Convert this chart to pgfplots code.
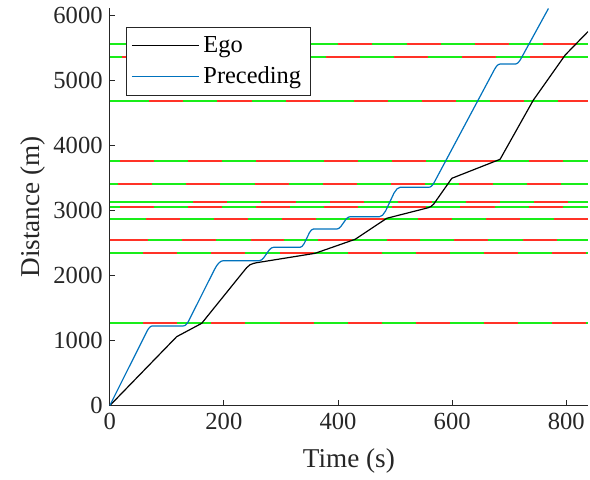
\documentclass[border=0pt]{standalone}
\usepackage{fontspec}
\setmainfont{Liberation Serif}
\usepackage{pgfplots}
\pgfplotsset{compat=1.18}
\definecolor{lred}{rgb}{1,0.2,0.15}
\definecolor{lgreen}{rgb}{0.1,0.93,0.1}
\definecolor{mblue}{rgb}{0,0.447,0.741}
\definecolor{axgray}{rgb}{0.15,0.15,0.15}
\begin{document}
\begin{tikzpicture}
\path[use as bounding box] (-54.85pt,-37.15pt) rectangle (240.15pt,202.85pt);
\begin{axis}[
  at={(0pt,0pt)}, anchor=south west,
  scale only axis, width=239.15pt, height=198.7pt,
  xmin=0, xmax=838, ymin=0, ymax=6103,
  unbounded coords=jump,
  axis x line*=bottom, axis y line*=left,
  axis line style={color=axgray, line width=0.45pt, -},
  every tick/.style={color=axgray, line width=0.45pt},
  tick align=inside, major tick length=2.6pt,
  xtick={0,200,...,800}, ytick={0,1000,...,6000},
  /pgf/number format/assume math mode=true,
  /pgf/number format/1000 sep={},
  tick label style={font=\fontsize{12.3}{14}\selectfont, color=axgray},
  label style={font=\fontsize{13.6}{16}\selectfont, color=axgray},
  xlabel={Time (s)}, ylabel={Distance (m)},
  xlabel style={yshift=-3pt},
  ylabel style={yshift=-3pt},
  legend style={at={(0.0341,0.953)}, anchor=north west, draw=axgray, line width=0.45pt,
    font=\fontsize{12.2}{14}\selectfont, cells={anchor=west}, inner xsep=2.5pt, inner ysep=2.5pt, row sep=1.5pt},
  legend image code/.code={\draw[#1, line width=0.5pt] (0pt,0pt) -- (33.5pt,0pt);},
  hl/.style={line width=1pt, forget plot},
]
% traffic-light lines: green base, red phases on top
\addplot[lgreen, hl] coordinates {(0,5555)(838,5555)};
\addplot[lred, hl] coordinates {(42.8,5555)(102.5,5555)(102.5,nan)(162.1,5555)(221.8,5555)(221.8,nan)(281.4,5555)(341.1,5555)(341.1,nan)(400.7,5555)(460.4,5555)(460.4,nan)(520.0,5555)(579.7,5555)(579.7,nan)(639.3,5555)(699.0,5555)(699.0,nan)(758.6,5555)(818.3,5555)};
\addplot[lgreen, hl] coordinates {(0,5351)(838,5351)};
\addplot[lred, hl] coordinates {(21.0,5351)(80.7,5351)(80.7,nan)(140.3,5351)(200.0,5351)(200.0,nan)(259.6,5351)(319.3,5351)(319.3,nan)(378.9,5351)(438.6,5351)(438.6,nan)(498.2,5351)(557.9,5351)(557.9,nan)(617.5,5351)(677.2,5351)(677.2,nan)(736.8,5351)(796.5,5351)};
\addplot[lgreen, hl] coordinates {(0,4676)(838,4676)};
\addplot[lred, hl] coordinates {(69.5,4676)(129.2,4676)(129.2,nan)(188.8,4676)(248.5,4676)(248.5,nan)(308.1,4676)(367.8,4676)(367.8,nan)(427.4,4676)(487.1,4676)(487.1,nan)(546.7,4676)(606.4,4676)(606.4,nan)(666.0,4676)(725.7,4676)(725.7,nan)(785.3,4676)(838,4676)};
\addplot[lgreen, hl] coordinates {(0,3761)(838,3761)};
\addplot[lred, hl] coordinates {(18.0,3761)(77.7,3761)(77.7,nan)(137.3,3761)(197.0,3761)(197.0,nan)(256.6,3761)(316.3,3761)(316.3,nan)(375.9,3761)(435.6,3761)(435.6,nan)(495.2,3761)(554.9,3761)(554.9,nan)(614.5,3761)(674.2,3761)(674.2,nan)(733.8,3761)(793.5,3761)};
\addplot[lgreen, hl] coordinates {(0,3403)(838,3403)};
\addplot[lred, hl] coordinates {(15.1,3403)(74.8,3403)(74.8,nan)(134.4,3403)(194.1,3403)(194.1,nan)(253.7,3403)(313.4,3403)(313.4,nan)(373.0,3403)(432.7,3403)(432.7,nan)(492.3,3403)(552.0,3403)(552.0,nan)(611.6,3403)(671.3,3403)(671.3,nan)(730.9,3403)(790.6,3403)};
\addplot[lgreen, hl] coordinates {(0,3129)(838,3129)};
\addplot[lred, hl] coordinates {(146.6,3129)(206.3,3129)(206.3,nan)(265.9,3129)(325.6,3129)(325.6,nan)(385.2,3129)(444.9,3129)(444.9,nan)(504.5,3129)(564.2,3129)(564.2,nan)(623.8,3129)(683.5,3129)(683.5,nan)(743.1,3129)(802.8,3129)};
\addplot[lgreen, hl] coordinates {(0,3046)(838,3046)};
\addplot[lred, hl] coordinates {(18.0,3046)(77.7,3046)(77.7,nan)(137.3,3046)(197.0,3046)(197.0,nan)(256.6,3046)(316.3,3046)(316.3,nan)(375.9,3046)(435.6,3046)(435.6,nan)(495.2,3046)(554.9,3046)(554.9,nan)(614.5,3046)(674.2,3046)(674.2,nan)(733.8,3046)(793.5,3046)};
\addplot[lgreen, hl] coordinates {(0,2868)(838,2868)};
\addplot[lred, hl] coordinates {(63.0,2868)(122.7,2868)(122.7,nan)(182.3,2868)(242.0,2868)(242.0,nan)(301.6,2868)(361.3,2868)(361.3,nan)(420.9,2868)(480.6,2868)(480.6,nan)(540.2,2868)(599.9,2868)(599.9,nan)(659.5,2868)(719.2,2868)(719.2,nan)(778.8,2868)(838,2868)};
\addplot[lgreen, hl] coordinates {(0,2549)(838,2549)};
\addplot[lred, hl] coordinates {(0,2549)(66.5,2549)(66.5,nan)(127.3,2549)(186.3,2549)(186.3,nan)(247.0,2549)(306.0,2549)(306.0,nan)(365.6,2549)(425.2,2549)(425.2,nan)(485.3,2549)(543.3,2549)(543.3,nan)(604.0,2549)(663.3,2549)(663.3,nan)(723.8,2549)(783.2,2549)};
\addplot[lgreen, hl] coordinates {(0,2338)(838,2338)};
\addplot[lred, hl] coordinates {(58.9,2338)(118.6,2338)(118.6,nan)(178.2,2338)(237.9,2338)(237.9,nan)(297.5,2338)(357.2,2338)(357.2,nan)(416.8,2338)(476.5,2338)(476.5,nan)(536.1,2338)(595.8,2338)(595.8,nan)(655.4,2338)(715.1,2338)(715.1,nan)(774.7,2338)(834.4,2338)};
\addplot[lgreen, hl] coordinates {(0,1268)(838,1268)};
\addplot[lred, hl] coordinates {(58.9,1268)(118.6,1268)(118.6,nan)(178.2,1268)(237.9,1268)(237.9,nan)(297.5,1268)(357.2,1268)(357.2,nan)(416.8,1268)(476.5,1268)(476.5,nan)(536.1,1268)(595.8,1268)(595.8,nan)(655.4,1268)(715.1,1268)(715.1,nan)(774.7,1268)(834.4,1268)};
% Ego
\addplot[black, line width=0.6pt, line join=round] coordinates {
(0,0)(117.4,1060)(161.2,1265)(234.2,2058)(240,2120)(246,2165)(252,2185)(257.6,2196)
(359.8,2340)(430,2555)(485.4,2878)(558,3040)(563,3060)(568,3100)(599.4,3492)
(684,3784)(742,4690)(798,5385)(838,5745)};
\addlegendentry{Ego}
% Preceding
\addplot[mblue, line width=0.6pt, line join=round] coordinates {
(0,0)(65,1137.5)(67.5,1176)(70,1203)(72.5,1219.5)(75,1225)
(129,1225)(131.5,1230.5)(134,1247)(136.5,1274)(139,1312.5)
(183.3,2087)(187.3,2148.3)(191.3,2192)(195.3,2218.3)(199.3,2227)
(262,2227)(265.75,2237.3)(269.5,2268)(274.5,2329.5)(279.5,2391)(283.25,2421.8)(287,2432)
(333.5,2432)(337.0,2446)(340.6,2488.2)(345.3,2572.5)(349.9,2656.8)(353.5,2699)(357,2713)
(398,2713)(401.5,2722.5)(404.9,2750.8)(409.5,2807.5)(414.1,2864.2)(417.6,2892.5)(421,2902)
(472.5,2902)(478,2924.6)(483.5,2992.4)(490.8,3128)(498,3263.6)(503.5,3331.4)(509,3354)
(559,3354)(561.5,3359.1)(564,3374.6)(566.5,3400.3)(569,3436.3)
(674.2,5164.8)(676.7,5200.8)(679.2,5226.4)(681.7,5241.9)(684.2,5247)
(710.4,5247)(712.9,5252)(715.4,5267)(717.9,5292)(720.4,5327)(768.7,6100)};
\addlegendentry{Preceding\hspace{3pt}}
\end{axis}
\end{tikzpicture}
\end{document}
